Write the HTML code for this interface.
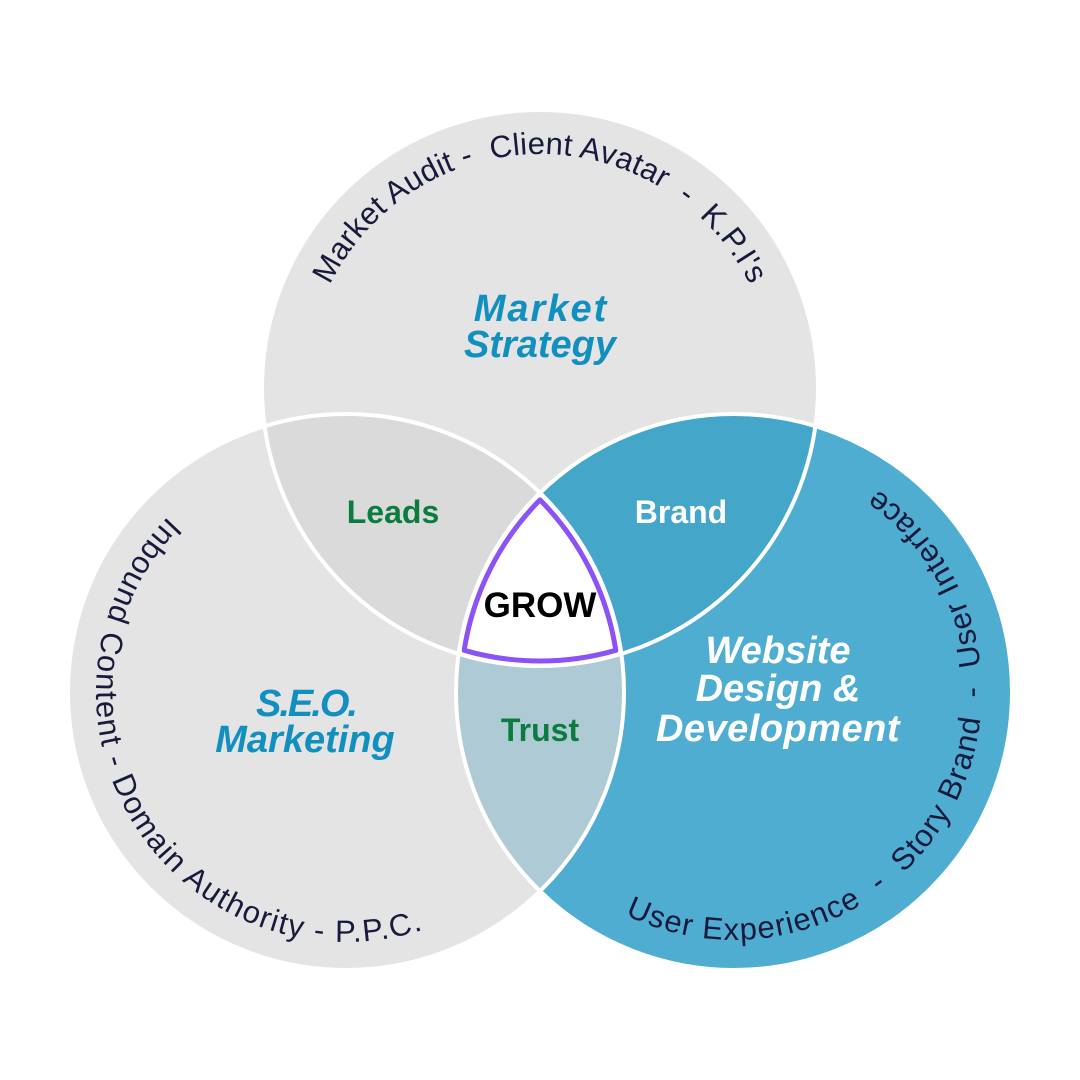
<!DOCTYPE html>
<html>
<head>
<meta charset="utf-8">
<style>
html,body{margin:0;padding:0;background:#fff;}
svg{display:block;}
text{font-family:"Liberation Sans", sans-serif;}
.curve{font-size:31px;fill:#171a3c;white-space:pre;}
.title{font-size:38px;font-weight:bold;font-style:italic;}
.lbl{font-size:32px;font-weight:bold;}
</style>
</head>
<body>
<svg width="1080" height="1080" viewBox="0 0 1080 1080" xmlns="http://www.w3.org/2000/svg">
  <defs>
    <clipPath id="cL"><circle cx="346" cy="692" r="278"/></clipPath>
    <clipPath id="cR"><circle cx="734" cy="692" r="278"/></clipPath>
    <path id="pT" d="M306,388 A234,234 0 0 1 774,388"/>
    <path id="pL" d="M253.1,459.9 A250,250 0 1 0 512.6,878.4"/>
    <path id="pR" d="M572.9,880.6 A248,248 0 1 0 820.9,459.7"/>
  </defs>

  <rect width="1080" height="1080" fill="#ffffff"/>

  <!-- base circles -->
  <circle cx="540" cy="388" r="278" fill="#e4e4e4"/>
  <circle cx="346" cy="692" r="278" fill="#e4e4e4"/>
  <circle cx="734" cy="692" r="278" fill="#4eadd0"/>

  <!-- lenses -->
  <circle cx="540" cy="388" r="278" fill="#dadada" clip-path="url(#cL)"/>
  <circle cx="540" cy="388" r="278" fill="#44a6c8" clip-path="url(#cR)"/>
  <circle cx="346" cy="692" r="278" fill="#aecad5" clip-path="url(#cR)"/>
  <g clip-path="url(#cR)">
    <circle cx="540" cy="388" r="278" fill="#ffffff" clip-path="url(#cL)"/>
  </g>

  <!-- white outlines -->
  <g fill="none" stroke="#ffffff" stroke-width="4">
    <circle cx="540" cy="388" r="278"/>
    <circle cx="346" cy="692" r="278"/>
    <circle cx="734" cy="692" r="278"/>
  </g>

  <!-- GROW outline -->
  <path d="M540,499.9 A273,273 0 0 1 615.8,650.3 A273,273 0 0 1 464.2,650.3 A273,273 0 0 1 540,499.9 Z"
        fill="#ffffff" stroke="#8b52f5" stroke-width="5" stroke-linejoin="round"/>

  <!-- curved texts -->
  <text class="curve" xml:space="preserve" letter-spacing="0.2"><textPath href="#pT" startOffset="50%" text-anchor="middle">Market Audit -  Client Avatar  -  K.P.I's</textPath></text>
  <text class="curve" xml:space="preserve" letter-spacing="1.5"><textPath href="#pL" startOffset="50%" text-anchor="middle">Inbound Content - Domain Authority - P.P.C.</textPath></text>
  <text class="curve" xml:space="preserve" letter-spacing="1.25"><textPath href="#pR" startOffset="50%" text-anchor="middle">User Experience  -  Story Brand  -  User Interface</textPath></text>

  <!-- circle titles -->
  <g fill="#1190c0" text-anchor="middle">
    <text x="541" y="321" class="title" letter-spacing="2">Market</text>
    <text x="540" y="357" class="title">Strategy</text>
    <text x="306" y="716" class="title" letter-spacing="-2">S.E.O.</text>
    <text x="305" y="752" class="title">Marketing</text>
  </g>
  <g fill="#ffffff" text-anchor="middle">
    <text x="778" y="663" class="title">Website</text>
    <text x="778" y="701" class="title">Design &amp;</text>
    <text x="778" y="741" class="title" letter-spacing="0.5">Development</text>
  </g>

  <!-- lens labels -->
  <text x="393" y="523" class="lbl" fill="#0a7d3e" text-anchor="middle">Leads</text>
  <text x="681" y="523" class="lbl" fill="#ffffff" text-anchor="middle">Brand</text>
  <text x="540" y="741" class="lbl" fill="#0a7d3e" text-anchor="middle">Trust</text>
  <text x="540" y="617" font-size="35" font-weight="bold" fill="#000000" text-anchor="middle">GROW</text>
</svg>
</body>
</html>
